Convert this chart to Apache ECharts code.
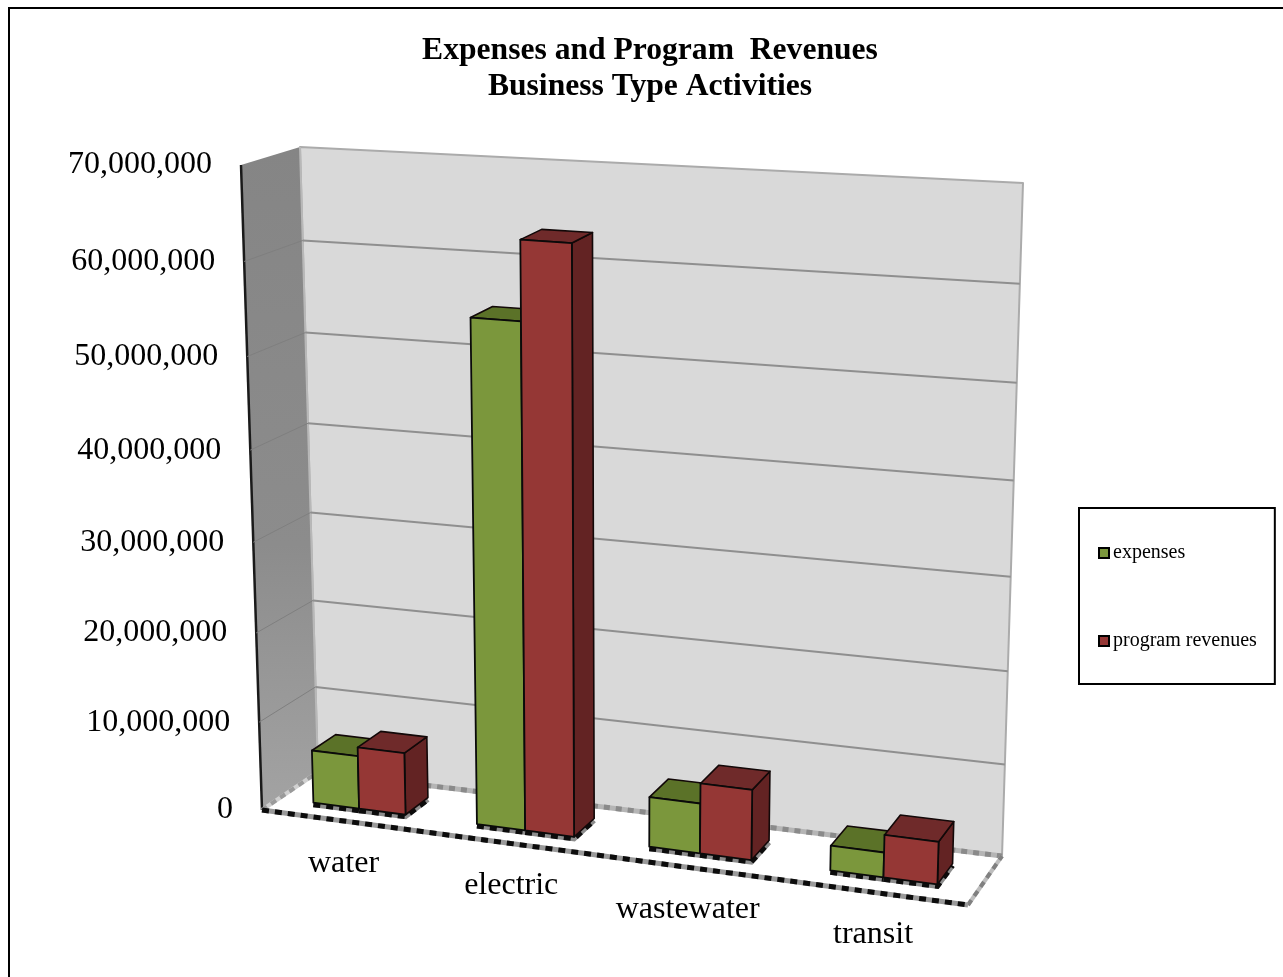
<!DOCTYPE html>
<html>
<head>
<meta charset="utf-8">
<style>html,body{margin:0;padding:0;background:#fff}#c{width:1283px;height:977px}</style>
<script src="https://cdn.jsdelivr.net/npm/echarts@6/dist/echarts.min.js"></script>
</head>
<body>
<div id="c"></div>
<script>
var titleText = 'Expenses and Program  Revenues\nBusiness Type Activities';
var categories = ['water', 'electric', 'wastewater', 'transit'];
var expenses = [6000000, 55000000, 5500000, 2700000];
var programRevenues = [7000000, 63400000, 7700000, 4600000];
var yTicks = [0, 10000000, 20000000, 30000000, 40000000, 50000000, 60000000, 70000000];
var yTickLabels = ['0', '10,000,000', '20,000,000', '30,000,000', '40,000,000', '50,000,000', '60,000,000', '70,000,000'];

var SERIF = '"Liberation Serif","Times New Roman",serif';
// hidden scale rectangle: the axes map values into it, then it is warped into the 3D view
var G = {l: 100, t: 100, w: 1000, h: 700};
var FBL = [262, 810], FBR = [968, 905], FTL = [241, 165], FTR = [990, 212];
var BBL = [318, 772], BBR = [1002, 856], BTL = [300, 147], BTR = [1023, 183];
var BAR_W = 0.285, D_FRONT = 0.31, D_BACK = 0.74;

function mix(a, b, k) { return [a[0] + (b[0] - a[0]) * k, a[1] + (b[1] - a[1]) * k]; }
function project(api, u, v, d) {
  var p = api.coord([u, v]);
  var s = (p[0] - G.l) / G.w, t = (G.t + G.h - p[1]) / G.h;
  s = s - 0.1 * s * (1 - s);
  t = t - 0.055 * t * (1 - t);
  var front = mix(mix(FBL, FBR, s), mix(FTL, FTR, s), t);
  var back = mix(mix(BBL, BBR, s), mix(BTL, BTR, s), t);
  return mix(front, back, d);
}
function poly(points, fill, stroke, w, extra) {
  var st = {fill: fill || 'none', stroke: stroke || 'none', lineWidth: w || 0, lineJoin: 'round'};
  if (extra) for (var k in extra) st[k] = extra[k];
  return {type: 'polygon', shape: {points: points}, style: st, silent: true};
}
function line(points, stroke, w, dash) {
  var st = {fill: 'none', stroke: stroke, lineWidth: w, lineCap: 'butt'};
  if (dash) st.lineDash = dash;
  return {type: 'polyline', shape: {points: points}, style: st, silent: true};
}

function renderScaffold(params, api) {
  var i = params.dataIndex, v = api.value(0), kids = [];
  if (i === 0) {
    var fa = project(api, 0, 0, 0), fb = project(api, 4, 0, 0), ba = project(api, 0, 0, 1), bb = project(api, 4, 0, 1);
    var ta = project(api, 0, 70000000, 1), tb = project(api, 4, 70000000, 1), tf = project(api, 0, 70000000, 0);
    kids.push(poly([ba, bb, tb, ta], '#d9d9d9', '#ababab', 2));
    kids.push(poly([fa, ba, ta, tf], {
      type: 'linear', x: 0, y: 0, x2: 0, y2: 1,
      colorStops: [{offset: 0, color: '#858585'}, {offset: 0.6, color: '#8c8c8c'}, {offset: 1, color: '#a3a3a3'}]
    }));
    kids.push(line([ba, ta], '#b8b8b8', 2));
    kids.push(line([fa, tf], '#1a1a1a', 2.5));
    // floor rim
    kids.push(line([ba, bb], '#b5b5b5', 5));
    kids.push(line([ba, bb], '#8a8a8a', 5, [6, 6]));
    kids.push(line([fb, bb], '#bdbdbd', 4));
    kids.push(line([fb, bb], '#808080', 4, [6, 5]));
    kids.push(line([fa, ba], '#d0d0d0', 4));
    kids.push(line([fa, ba], '#9a9a9a', 4, [6, 5]));
    kids.push(line([fa, fb], '#9a9a9a', 5));
    kids.push(line([fa, fb], '#0c0c0c', 5, [7, 6]));
  } else if (v < 70000000) {
    var a = project(api, 0, v, 1), b = project(api, 4, v, 1), c = project(api, 0, v, 0);
    kids.push(line([a, b], '#8f8f8f', 2));
    kids.push(line([c, a], '#7f7f7f', 1));
  }
  var e = project(api, 0, v, 0);
  kids.push({type: 'text', silent: true, style: {
    text: yTickLabels[i], x: e[0] - 29, y: e[1], align: 'right', verticalAlign: 'middle',
    fontFamily: SERIF, fontSize: 32, fill: '#000'
  }});
  return {type: 'group', children: kids};
}

function renderCategoryLabel(params, api) {
  var e = project(api, params.dataIndex + 0.5, 0, 0);
  return {type: 'text', silent: true, style: {
    text: categories[params.dataIndex], x: e[0] + 1, y: e[1] + 42.5, align: 'center', verticalAlign: 'middle',
    fontFamily: SERIF, fontSize: 32, fill: '#000'
  }};
}

function barRenderer(slot, front, top, side) {
  return function (params, api) {
    var c = api.value(0) + 0.5, v = api.value(1);
    var u0 = c + (slot - 1) * BAR_W, u1 = u0 + BAR_W;
    var a = project(api, u0, 0, D_FRONT), b = project(api, u1, 0, D_FRONT);
    var e = project(api, u1, 0, D_BACK);
    var A = project(api, u0, v, D_FRONT), B = project(api, u1, v, D_FRONT);
    var E = project(api, u1, v, D_BACK), F = project(api, u0, v, D_BACK);
    var base = [[a[0], a[1] + 2], [b[0], b[1] + 2], [e[0], e[1] + 2]];
    return {type: 'group', children: [
      line(base, '#8c8c8c', 5),
      line(base, '#0c0c0c', 5, [7, 6]),
      poly([b, e, E, B], side, '#120808', 1.6),
      poly([A, B, E, F], top, '#120808', 1.6),
      poly([a, b, B, A], front, '#0a0a0a', 1.8)
    ]};
  };
}

function pairs(arr) { return arr.map(function (v, i) { return [i, v]; }); }

var option = {
  backgroundColor: '#fff',
  animation: false,
  title: {
    text: titleText, left: 645, top: 28, textAlign: 'center',
    textStyle: {fontFamily: SERIF, fontWeight: 'bold', fontSize: 31.6, lineHeight: 36, color: '#000'}
  },
  grid: {left: G.l, top: G.t, width: G.w, height: G.h, containLabel: false},
  xAxis: {type: 'value', min: 0, max: 4, show: false},
  yAxis: {type: 'value', min: 0, max: 70000000, interval: 10000000, show: false},
  legend: {
    left: 1079, top: 508, orient: 'vertical', itemWidth: 10, itemHeight: 10, itemGap: 68,
    padding: [35, 18, 33, 19], borderColor: '#000', borderWidth: 2, backgroundColor: '#fff',
    icon: 'rect', data: ['expenses', 'program revenues'], selectedMode: false,
    textStyle: {fontFamily: SERIF, fontSize: 20, color: '#000', padding: [2, 0, 0, -1]},
    itemStyle: {borderColor: '#000', borderWidth: 2}
  },
  graphic: [
    {type: 'line', shape: {x1: 9, y1: 8, x2: 1283, y2: 8}, style: {stroke: '#000', lineWidth: 2}, silent: true},
    {type: 'line', shape: {x1: 9, y1: 7, x2: 9, y2: 977}, style: {stroke: '#000', lineWidth: 2}, silent: true}
  ],
  series: [
    {type: 'custom', name: 'scaffold', z: 1, silent: true, clip: false, renderItem: renderScaffold,
      data: yTicks.map(function (v) { return [v]; })},
    {type: 'custom', name: 'category labels', z: 1, silent: true, renderItem: renderCategoryLabel,
      data: categories.map(function (c, i) { return [i]; })},
    {type: 'custom', name: 'expenses', z: 2, renderItem: barRenderer(0, '#7b973c', '#5b7228', '#4e6322'),
      itemStyle: {color: '#7b973c'}, encode: {x: 0, y: 1}, data: pairs(expenses)},
    {type: 'custom', name: 'program revenues', z: 3, renderItem: barRenderer(1, '#953735', '#6f2a2a', '#632323'),
      itemStyle: {color: '#953735'}, encode: {x: 0, y: 1}, data: pairs(programRevenues)}
  ]
};
var chart = echarts.init(document.getElementById('c'), null, {renderer: 'canvas'});
chart.setOption(option);
</script>
</body>
</html>
